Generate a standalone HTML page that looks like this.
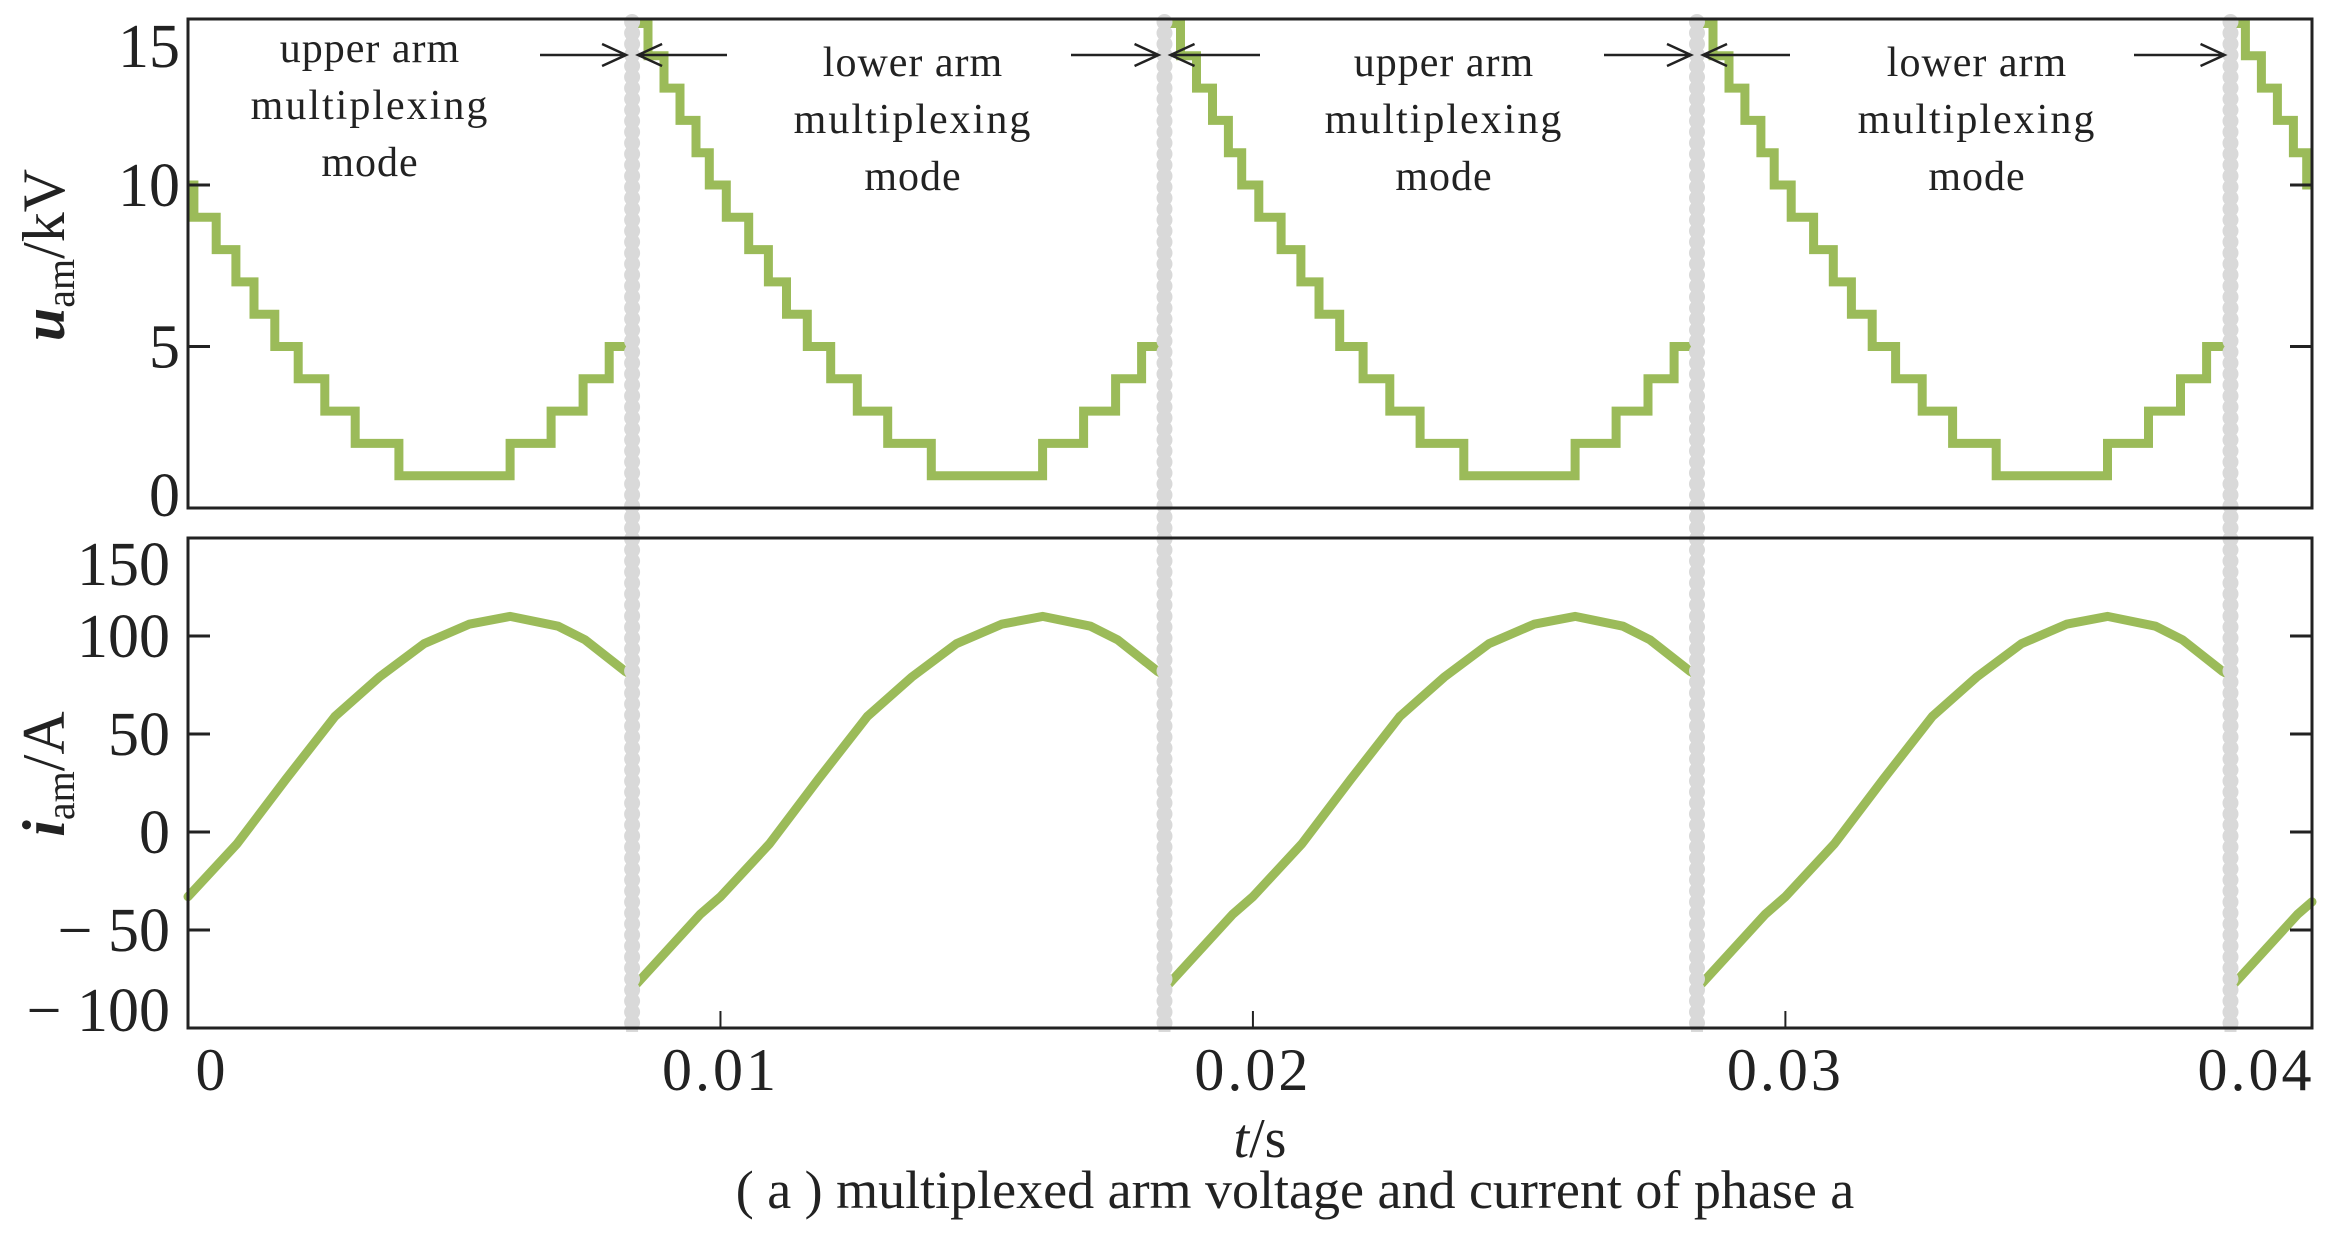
<!DOCTYPE html>
<html><head><meta charset="utf-8">
<style>
html,body{margin:0;padding:0;background:#fff;}
svg{display:block;}
text{font-family:"Liberation Serif",serif;fill:#222;}
</style></head>
<body>
<svg id="chart" width="2339" height="1244" viewBox="0 0 2339 1244" xmlns="http://www.w3.org/2000/svg">
<g id="marks"></g>
<g id="frames"></g>
<g id="labels"></g>
</svg>
<script>
// ---- data ----
const periodStarts = [-0.00166, 0.00834, 0.01834, 0.02834, 0.03834];
const boundaryTimes = [0.00834, 0.01834, 0.02834, 0.03836];
// voltage step levels (kV) and the time (relative to period start) at which each level begins
const voltLevels = [15, 14, 13, 12, 11, 10, 9, 8, 7, 6, 5, 4, 3, 2, 1, 2, 3, 4, 5];
const voltStartTimes = [0, 0.0003, 0.0006, 0.0009, 0.0012, 0.00145, 0.00177, 0.00219, 0.00256, 0.0029, 0.00329, 0.00373, 0.00423, 0.0048, 0.00562, 0.00771, 0.00848, 0.00908, 0.00957];
// current samples within one period
const currTimes = [0, 0.00128, 0.00166, 0.00258, 0.0035, 0.00442, 0.00525, 0.00609, 0.00694, 0.00771, 0.00861, 0.00912, 0.00987, 0.01];
const currValues = [-80, -42, -33, -6, 27, 59, 79, 96, 106, 110, 105, 98, 82, 80];
const voltTicks = [0, 5, 10, 15];
const currTicks = [-100, -50, 0, 50, 100, 150];
const currTickLabels = ["\u2212 100", "\u2212 50", "0", "50", "100", "150"];
const timeTicks = [0, 0.01, 0.02, 0.03, 0.04];
const timeTickLabels = ["0", "0.01", "0.02", "0.03", "0.04"];
const modeTexts = ["upper arm", "lower arm", "upper arm", "lower arm"];

// ---- axes ----
const X0 = 188, X1 = 2312, TMAX = 0.03989;
const VT = 19, VB = 508, CT = 538, CB = 1028;
const xs = t => X0 + (t / TMAX) * (X1 - X0);
const yv = v => VB - v / 15.14 * (VB - VT);
const yc = v => CB - (v + 100) / 250 * (CB - CT);

const NS = "http://www.w3.org/2000/svg";
function mk(tag, attrs, parent) {
  const e = document.createElementNS(NS, tag);
  for (const k in attrs) e.setAttribute(k, attrs[k]);
  parent.appendChild(e);
  return e;
}
const marks = document.getElementById('marks');
const frames = document.getElementById('frames');
const labels = document.getElementById('labels');
const clip = t => Math.max(0, Math.min(TMAX, t));

// voltage series
periodStarts.forEach((ps, pi) => {
  const pe = ps + 0.01;
  let d = '';
  for (let i = 0; i < voltLevels.length; i++) {
    let a = ps + voltStartTimes[i];
    let b = (i + 1 < voltLevels.length) ? ps + voltStartTimes[i + 1] : pe;
    if (b <= 0 || a >= TMAX) continue;
    a = clip(a); b = clip(b);
    const y = yv(voltLevels[i]).toFixed(1);
    d += (d ? 'L' : 'M') + xs(a).toFixed(1) + ' ' + y + 'L' + xs(b).toFixed(1) + ' ' + y;
  }
  if (d) {
    const p = mk('path', {d: d, fill: 'none', stroke: '#9bbb59', 'stroke-width': 9, 'stroke-linejoin': 'miter'}, marks);
    
    
  }
});

// current series
periodStarts.forEach((ps, pi) => {
  const pts = [];
  for (let i = 0; i < currTimes.length; i++) {
    const t = ps + currTimes[i];
    if (i + 1 < currTimes.length) {
      const tn = ps + currTimes[i + 1];
      if (t < 0 && tn > 0) {
        const f = (0 - t) / (tn - t);
        pts.push([0, currValues[i] + f * (currValues[i + 1] - currValues[i])]);
      }
    }
    if (t >= 0 && t <= TMAX) pts.push([t, currValues[i]]);
    if (i + 1 < currTimes.length) {
      const tn = ps + currTimes[i + 1];
      if (t < TMAX && tn > TMAX) {
        const f = (TMAX - t) / (tn - t);
        pts.push([TMAX, currValues[i] + f * (currValues[i + 1] - currValues[i])]);
      }
    }
  }
  if (pts.length > 1) {
    const d = pts.map((p, i) => (i ? 'L' : 'M') + xs(p[0]).toFixed(1) + ' ' + yc(p[1]).toFixed(1)).join('');
    const p = mk('path', {d: d, fill: 'none', stroke: '#9bbb59', 'stroke-width': 9, 'stroke-linejoin': 'round', 'stroke-linecap': 'round'}, marks);
    
    
  }
});

// mode boundaries (gray dotted)
boundaryTimes.forEach((bt, i) => {
  const x = xs(bt).toFixed(1);
  const g = mk('line', {x1: x, x2: x, y1: 20, y2: 1032, stroke: '#d9d9d9', 'stroke-width': 12}, marks);
  
  
  const g2 = mk('line', {x1: x, x2: x, y1: 22, y2: 1030, stroke: '#d9d9d9', 'stroke-width': 16, 'stroke-linecap': 'round', 'stroke-dasharray': '0 11'}, marks);
  
  
});

// frames
[[VT, VB, 'voltage-plot-frame'], [CT, CB, 'current-plot-frame']].forEach(f => {
  const r = mk('rect', {x: X0, y: f[0], width: X1 - X0, height: f[1] - f[0], fill: 'none', stroke: '#222', 'stroke-width': 3}, frames);
  
  
});

// y ticks + labels voltage
voltTicks.forEach(v => {
  const y = yv(v);
  if (v > 0 && v < 15) {
    const a = mk('line', {x1: X0, x2: X0 + 22, y1: y, y2: y, stroke: '#222', 'stroke-width': 3}, frames);
    
    
    const b = mk('line', {x1: X1 - 22, x2: X1, y1: y, y2: y, stroke: '#222', 'stroke-width': 3}, frames);
    
    
  }
  const ly = Math.min(Math.max(y, VT + 27), VB - 13) + 21;
  const t = mk('text', {x: 180, y: ly, 'text-anchor': 'end', 'font-size': 62}, labels);
  t.textContent = String(v);
  
  
});
// y ticks + labels current
currTicks.forEach((v, i) => {
  const y = yc(v);
  if (v > -100 && v < 150) {
    const a = mk('line', {x1: X0, x2: X0 + 22, y1: y, y2: y, stroke: '#222', 'stroke-width': 3}, frames);
    
    
    const b = mk('line', {x1: X1 - 22, x2: X1, y1: y, y2: y, stroke: '#222', 'stroke-width': 3}, frames);
    
    
  }
  const ly = Math.min(Math.max(y, CT + 26), CB - 18) + 21;
  const t = mk('text', {x: 170, y: ly, 'text-anchor': 'end', 'font-size': 62}, labels);
  t.textContent = currTickLabels[i];
  
  
});
// x ticks + labels
timeTicks.forEach((tv, i) => {
  const x = Math.min(xs(tv), X1);
  if (tv > 0 && tv < 0.04) {
    const a = mk('line', {x1: x, x2: x, y1: CB, y2: CB - 17, stroke: '#222', 'stroke-width': 2}, frames);
    
    
  }
  let lx = x;
  if (tv === 0) lx = 212;
  if (tv >= 0.04) lx = 2256;
  const t = mk('text', {x: lx, y: 1090, 'text-anchor': 'middle', 'font-size': 60, 'letter-spacing': 3}, labels);
  t.textContent = timeTickLabels[i];
  
  
});

// mode annotations
const annoX = [370, 913, 1444, 1977];
const annoDy = [0, 14, 14, 14];
modeTexts.forEach((s, i) => {
  const g = mk('g', {}, labels);
  
  
  [s, 'multiplexing', 'mode'].forEach((line, j) => {
    const t = mk('text', {x: annoX[i], y: 62 + annoDy[i] + j * 57, 'text-anchor': 'middle', 'font-size': 42, 'letter-spacing': j === 1 ? 2 : 1}, g);
    t.textContent = line;
  });
});
// arrows
const arrowStartX = [540, 1071, 1604, 2134];
const arrowEndX = [727, 1260, 1790];
const AY = 55;
boundaryTimes.forEach((bt, i) => {
  const x = xs(bt) - 6;
  const g = mk('g', {stroke: '#222', 'stroke-width': 2.5, fill: 'none'}, labels);
  
  
  mk('path', {d: `M${arrowStartX[i]} ${AY}H${x}M${x - 24} ${AY - 11}L${x} ${AY}L${x - 24} ${AY + 11}`}, g);
  if (i < arrowEndX.length) {
    const xr = xs(bt) + 6;
    mk('path', {d: `M${xr} ${AY}H${arrowEndX[i]}M${xr + 24} ${AY - 11}L${xr} ${AY}L${xr + 24} ${AY + 11}`}, g);
  }
});
</script>
<div style="position:absolute;left:0;top:0;width:2339px;height:1244px;pointer-events:none;">
<svg width="2339" height="1244" style="position:absolute;left:0;top:0">
  <text transform="translate(64,255) rotate(-90)" text-anchor="middle" font-size="60" style="font-family:'Liberation Serif',serif;fill:#222"><tspan font-weight="bold" font-style="italic">u</tspan><tspan font-size="40" dy="10">am</tspan><tspan dy="-10">/kV</tspan></text>
  <text transform="translate(64,774) rotate(-90)" text-anchor="middle" font-size="60" style="font-family:'Liberation Serif',serif;fill:#222"><tspan font-weight="bold" font-style="italic">i</tspan><tspan font-size="40" dy="10">am</tspan><tspan dy="-10">/A</tspan></text>
  <text x="1260" y="1157" text-anchor="middle" font-size="56" style="font-family:'Liberation Serif',serif;fill:#222"><tspan font-style="italic">t</tspan>/s</text>
  <text x="1295" y="1208" text-anchor="middle" font-size="54" style="font-family:'Liberation Serif',serif;fill:#222">( a ) multiplexed arm voltage and current of phase a</text>
</svg>
</div>
</body></html>
